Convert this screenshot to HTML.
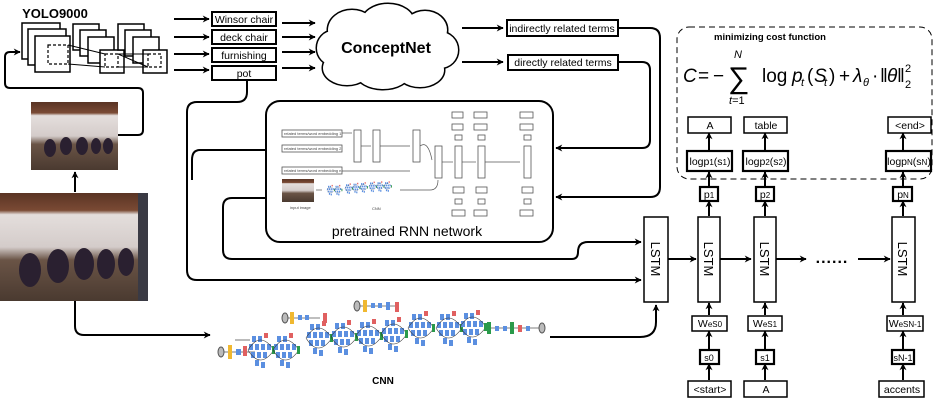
<!DOCTYPE html>
<html><head><meta charset="utf-8"><style>
html,body{margin:0;padding:0;background:#fff}
svg{display:block}
text{font-family:"Liberation Sans",sans-serif}
</style></head><body>
<svg width="938" height="405" viewBox="0 0 938 405" xmlns="http://www.w3.org/2000/svg">
<defs>
<marker id="a" viewBox="0 0 10 10" refX="9" refY="5" markerWidth="7" markerHeight="7" orient="auto-start-reverse" markerUnits="userSpaceOnUse"><path d="M0,0 L10,5 L0,10 L3,5 z" fill="#000"/></marker>
<linearGradient id="ph" x1="0" y1="0" x2="0" y2="1">
<stop offset="0" stop-color="#5a3424"/><stop offset="0.16" stop-color="#7a4a34"/><stop offset="0.2" stop-color="#e4dedc"/><stop offset="0.5" stop-color="#d4ccca"/><stop offset="0.62" stop-color="#6a5446"/><stop offset="1" stop-color="#4a3a30"/>
</linearGradient>
<g id="mod">
<rect x="0" y="-14" width="4" height="6" fill="#5b8fe0"/><rect x="6" y="-14" width="4" height="6" fill="#5b8fe0"/><rect x="12" y="-17" width="4" height="5" fill="#e06060"/>
<rect x="-3" y="-6" width="4" height="6" fill="#5b8fe0"/><rect x="3" y="-6" width="4" height="6" fill="#5b8fe0"/><rect x="9" y="-6" width="4" height="6" fill="#5b8fe0"/><rect x="15" y="-6" width="4" height="6" fill="#5b8fe0"/>
<rect x="-1" y="2" width="4" height="6" fill="#5b8fe0"/><rect x="5" y="2" width="4" height="6" fill="#5b8fe0"/><rect x="11" y="2" width="4" height="6" fill="#5b8fe0"/>
<rect x="3" y="10" width="4" height="6" fill="#5b8fe0"/><rect x="9" y="12" width="4" height="6" fill="#5b8fe0"/>
<path d="M-4,0 Q8,-20 22,0 Q8,20 -4,0" fill="none" stroke="#333" stroke-width="0.6"/>
<rect x="20" y="-4" width="3" height="8" fill="#2a9a4a"/>
</g>
</defs>

<!-- YOLO -->
<text x="55" y="18" font-size="13" font-weight="bold" text-anchor="middle">YOLO9000</text>
<g fill="#fff" stroke="#000" stroke-width="1.5">
<rect x="22" y="23" width="38" height="36"/><rect x="28" y="29" width="38" height="36"/><rect x="35" y="36" width="35" height="36"/>
<rect x="73" y="24" width="26" height="26"/><rect x="80" y="30" width="26" height="26"/><rect x="88" y="37" width="26" height="26"/><rect x="100" y="50" width="24" height="23"/>
<rect x="118" y="24" width="26" height="26"/><rect x="125" y="30" width="26" height="26"/><rect x="133" y="37" width="26" height="26"/><rect x="143" y="50" width="24" height="23"/>
</g>
<g fill="none" stroke="#000" stroke-width="1.2" stroke-dasharray="3,2">
<rect x="48" y="45" width="20" height="19"/><rect x="105" y="54" width="13" height="13"/><rect x="148" y="54" width="13" height="13"/>
</g>
<g stroke="#000" stroke-width="1"><line x1="68" y1="45" x2="105" y2="54"/><line x1="68" y1="64" x2="105" y2="67"/><line x1="118" y1="54" x2="148" y2="54"/><line x1="118" y1="67" x2="148" y2="67"/><line x1="118" y1="54" x2="148" y2="67"/></g>

<!-- photos -->
<rect x="31" y="102" width="87" height="68" fill="url(#ph)"/>
<rect x="0" y="193" width="148" height="108" fill="url(#ph)"/>
<g fill="#2a2030"><ellipse cx="50" cy="148" rx="6" ry="9"/><ellipse cx="66" cy="146" rx="6" ry="9"/><ellipse cx="82" cy="146" rx="6" ry="9"/><ellipse cx="96" cy="146" rx="5" ry="8"/><ellipse cx="108" cy="146" rx="5" ry="8"/>
<ellipse cx="30" cy="270" rx="11" ry="17"/><ellipse cx="58" cy="266" rx="11" ry="17"/><ellipse cx="84" cy="264" rx="10" ry="16"/><ellipse cx="106" cy="264" rx="9" ry="15"/><ellipse cx="126" cy="262" rx="8" ry="14"/></g>
<rect x="138" y="193" width="10" height="108" fill="#3a3a44"/>

<g fill="none" stroke="#000" stroke-width="2">
<path d="M75,192 V172" marker-end="url(#a)"/>
<path d="M118,135 H138 Q143,135 143,130 V93 Q143,88 138,88 H10 Q5,88 5,83 V57 Q5,52 10,52 H20" marker-end="url(#a)"/>
<path d="M75,301 V326 Q75,335 84,335 H210" marker-end="url(#a)"/>
<path d="M174,19 H209" marker-end="url(#a)"/><path d="M174,37 H209" marker-end="url(#a)"/><path d="M174,54 H209" marker-end="url(#a)"/><path d="M174,70 H209" marker-end="url(#a)"/>
<path d="M282,23 H315" marker-end="url(#a)"/><path d="M282,37 H315" marker-end="url(#a)"/><path d="M282,52 H315" marker-end="url(#a)"/><path d="M282,68 H315" marker-end="url(#a)"/>
<path d="M462,28 H503" marker-end="url(#a)"/><path d="M462,62 H503" marker-end="url(#a)"/>
<path d="M618,28 H650 Q660,28 660,38 V187 Q660,197 650,197 H556" marker-end="url(#a)"/>
<path d="M618,62 H642 Q650,62 650,70 V140 Q650,148 642,148 H556" marker-end="url(#a)"/>
<path d="M247,80 V92 Q247,102 237,102 H197 Q187,102 187,112 V270 Q187,280 197,280 H641" marker-end="url(#a)"/>
<path d="M266,150 H200 Q192,150 192,160 V180"/>
<path d="M266,198 H232 Q223,198 223,207 V250 Q223,259 232,259 H572 Q578,259 578,252 Q578,242 588,242 H641" marker-end="url(#a)"/>
<path d="M550,337 H640 Q656,337 656,322 V305" marker-end="url(#a)"/>
</g>

<g fill="#fff" stroke="#000" stroke-width="2"><rect x="212" y="12" width="64" height="14"/><rect x="212" y="30" width="64" height="14"/><rect x="212" y="48" width="64" height="14"/><rect x="212" y="66" width="64" height="14"/>
<rect x="507" y="20" width="111" height="16"/><rect x="508" y="55" width="110" height="15"/></g>
<g font-size="10.5" text-anchor="middle"><text x="244" y="23">Winsor chair</text><text x="244" y="41">deck chair</text><text x="244" y="59">furnishing</text><text x="244" y="77">pot</text>
<text x="562" y="32">indirectly related terms</text><text x="563" y="66">directly related terms</text></g>

<!-- cloud -->
<g stroke="#000" stroke-width="3" fill="#fff">
<ellipse cx="352" cy="30" rx="24" ry="20"/><ellipse cx="388" cy="22" rx="26" ry="18"/><ellipse cx="425" cy="30" rx="22" ry="19"/><ellipse cx="440" cy="50" rx="18" ry="18"/><ellipse cx="420" cy="70" rx="24" ry="17"/><ellipse cx="383" cy="74" rx="26" ry="15"/><ellipse cx="347" cy="68" rx="24" ry="17"/><ellipse cx="333" cy="48" rx="16" ry="17"/>
</g>
<g fill="#fff"><ellipse cx="352" cy="30" rx="24" ry="20"/><ellipse cx="388" cy="22" rx="26" ry="18"/><ellipse cx="425" cy="30" rx="22" ry="19"/><ellipse cx="440" cy="50" rx="18" ry="18"/><ellipse cx="420" cy="70" rx="24" ry="17"/><ellipse cx="383" cy="74" rx="26" ry="15"/><ellipse cx="347" cy="68" rx="24" ry="17"/><ellipse cx="333" cy="48" rx="16" ry="17"/><ellipse cx="386" cy="48" rx="55" ry="28"/></g>
<text x="386" y="53" font-size="16" font-weight="bold" text-anchor="middle">ConceptNet</text>

<!-- pretrained RNN box -->
<rect x="266" y="101" width="287" height="141" rx="14" fill="#fff" stroke="#000" stroke-width="2"/>
<text x="407" y="236" font-size="14" text-anchor="middle">pretrained RNN network</text>
<g stroke="#555" stroke-width="0.8" fill="#fff">
<rect x="282" y="130" width="60" height="7"/><rect x="282" y="145" width="60" height="7"/><rect x="282" y="167" width="60" height="7"/>
<rect x="354" y="130" width="7" height="32"/><rect x="373" y="130" width="7" height="32"/><rect x="413" y="130" width="7" height="32"/><rect x="435" y="146" width="7" height="32"/>
<rect x="455" y="146" width="7" height="32"/><rect x="478" y="146" width="7" height="32"/><rect x="524" y="146" width="7" height="32"/>
<rect x="452" y="112" width="11" height="6"/><rect x="474" y="112" width="13" height="6"/><rect x="520" y="112" width="13" height="6"/>
<rect x="452" y="124" width="11" height="6"/><rect x="474" y="124" width="13" height="6"/><rect x="520" y="124" width="13" height="6"/>
<rect x="455" y="135" width="7" height="5"/><rect x="478" y="135" width="7" height="5"/><rect x="524" y="135" width="7" height="5"/>
<rect x="453" y="187" width="11" height="6"/><rect x="476" y="187" width="11" height="6"/><rect x="522" y="187" width="11" height="6"/>
<rect x="455" y="199" width="7" height="5"/><rect x="478" y="199" width="7" height="5"/><rect x="524" y="199" width="7" height="5"/>
<rect x="452" y="210" width="13" height="6"/><rect x="474" y="210" width="13" height="6"/><rect x="520" y="210" width="13" height="6"/>
</g>
<rect x="282" y="179" width="32" height="23" fill="url(#ph)"/>
<g stroke="#555" stroke-width="0.7" fill="none"><path d="M342,133 H352"/><path d="M361,146 H371"/><path d="M380,146 H410"/><path d="M420,146 Q428,140 432,160"/><path d="M342,171 H410"/><path d="M442,162 H453"/><path d="M462,162 H476"/><path d="M485,162 H520"/><path d="M316,190 H322"/><path d="M400,190 H430 Q438,190 438,180"/></g>
<g font-size="4" fill="#444"><text x="284" y="135">related terms/word embedding 1</text><text x="284" y="150">related terms/word embedding 2</text><text x="284" y="172">related terms/word embedding n</text><text x="290" y="209">input image</text><text x="372" y="210">CNN</text></g>
<g transform="translate(322,190) scale(0.3)"><use href="#mod" x="20" y="0"/><use href="#mod" x="45" y="0"/><use href="#mod" x="80" y="-5"/><use href="#mod" x="105" y="-7"/><use href="#mod" x="130" y="-9"/><use href="#mod" x="160" y="-11"/><use href="#mod" x="185" y="-12"/><use href="#mod" x="210" y="-12"/></g>

<!-- CNN bottom -->
<g stroke="#777" stroke-width="1" fill="none"><path d="M218,352 H255"/><path d="M235,340 H250"/></g>
<ellipse cx="221" cy="352" rx="3" ry="5" fill="#bbb" stroke="#555"/>
<rect x="228" y="345" width="4" height="14" fill="#f0b830"/><rect x="236" y="349" width="5" height="6" fill="#5b8fe0"/><rect x="243" y="346" width="4" height="10" fill="#e06060"/>
<g><use href="#mod" x="252" y="350"/><use href="#mod" x="277" y="350"/><use href="#mod" x="310" y="338"/><use href="#mod" x="335" y="337"/><use href="#mod" x="360" y="336"/><use href="#mod" x="385" y="334"/><use href="#mod" x="412" y="328"/><use href="#mod" x="440" y="328"/><use href="#mod" x="464" y="327"/></g>
<g stroke="#555" stroke-width="0.8"><path d="M285,318 H320"/><path d="M357,306 H398"/><path d="M487,328 H540"/></g>
<ellipse cx="285" cy="318" rx="3" ry="5" fill="#bbb" stroke="#555"/><rect x="290" y="312" width="4" height="12" fill="#f0b830"/><rect x="298" y="315" width="4" height="5" fill="#5b8fe0"/><rect x="305" y="315" width="4" height="5" fill="#5b8fe0"/><rect x="323" y="313" width="4" height="10" fill="#e06060"/>
<ellipse cx="357" cy="306" rx="3" ry="5" fill="#bbb" stroke="#555"/><rect x="363" y="300" width="4" height="12" fill="#f0b830"/><rect x="371" y="303" width="4" height="5" fill="#5b8fe0"/><rect x="378" y="303" width="4" height="5" fill="#5b8fe0"/><rect x="386" y="302" width="4" height="8" fill="#5b8fe0"/><rect x="395" y="302" width="4" height="10" fill="#e06060"/>
<rect x="487" y="322" width="4" height="12" fill="#2a9a4a"/><rect x="495" y="326" width="4" height="5" fill="#5b8fe0"/><rect x="503" y="326" width="4" height="5" fill="#5b8fe0"/><rect x="510" y="322" width="4" height="12" fill="#2a9a4a"/><rect x="518" y="325" width="4" height="7" fill="#e06060"/><rect x="526" y="326" width="4" height="5" fill="#5b8fe0"/><ellipse cx="542" cy="328" rx="3" ry="5" fill="#bbb" stroke="#555"/>
<text x="383" y="384" font-size="10" font-weight="bold" text-anchor="middle">CNN</text>

<!-- dashed cost box -->
<rect x="677" y="27" width="255" height="152" rx="12" fill="none" stroke="#000" stroke-width="1" stroke-dasharray="6,4"/>
<text x="770" y="40" font-size="9.5" font-weight="bold" text-anchor="middle">minimizing cost function</text>
<g font-family="Liberation Serif, serif" font-size="19">
<text x="683" y="82" font-style="italic">C</text>
<text x="698" y="82">=</text><text x="713" y="82">−</text>
<text x="728" y="88" font-size="30">∑</text>
<text x="734" y="58" font-size="11" font-style="italic">N</text>
<text x="729" y="104" font-size="11"><tspan font-style="italic">t</tspan>=1</text>
<text x="762" y="82">log</text>
<text x="792" y="82" font-style="italic">p</text><text x="801" y="86" font-size="11" font-style="italic">t</text>
<text x="807" y="82">(</text><text x="814" y="82" font-style="italic">S</text><text x="824" y="86" font-size="11" font-style="italic">t</text><text x="829" y="82">)</text>
<text x="839" y="82">+</text>
<text x="853" y="82" font-style="italic">λ</text><text x="863" y="86" font-size="11" font-style="italic">θ</text>
<text x="872" y="82">·</text>
<text x="880" y="82">‖</text><text x="887" y="82" font-style="italic">θ</text><text x="897" y="82">‖</text>
<text x="905" y="72" font-size="11">2</text><text x="905" y="88" font-size="11">2</text>
</g>

<!-- right columns -->
<g fill="none" stroke="#000" stroke-width="2">
<path d="M668,259 H696" marker-end="url(#a)"/><path d="M720,259 H751" marker-end="url(#a)"/><path d="M776,259 H806" marker-end="url(#a)"/><path d="M858,259 H890" marker-end="url(#a)"/>
<path d="M709,349 V331" marker-end="url(#a)"/><path d="M709,380 V364" marker-end="url(#a)"/><path d="M709,315 V303" marker-end="url(#a)"/><path d="M709,216 V201" marker-end="url(#a)"/><path d="M709,186 V172" marker-end="url(#a)"/><path d="M709,150 V133" marker-end="url(#a)"/>
<path d="M765,349 V331" marker-end="url(#a)"/><path d="M765,380 V364" marker-end="url(#a)"/><path d="M765,315 V303" marker-end="url(#a)"/><path d="M765,216 V201" marker-end="url(#a)"/><path d="M765,186 V172" marker-end="url(#a)"/><path d="M765,150 V133" marker-end="url(#a)"/>
<path d="M903,349 V331" marker-end="url(#a)"/><path d="M903,380 V364" marker-end="url(#a)"/><path d="M903,315 V303" marker-end="url(#a)"/><path d="M903,216 V201" marker-end="url(#a)"/><path d="M903,186 V172" marker-end="url(#a)"/><path d="M903,150 V133" marker-end="url(#a)"/>
</g>
<text x="832" y="263" font-size="16" font-weight="bold" text-anchor="middle" letter-spacing="1">......</text>
<g fill="#fff" stroke="#000" stroke-width="1.5">
<rect x="644" y="217" width="24" height="85"/><rect x="698" y="217" width="22" height="85"/><rect x="754" y="217" width="22" height="85"/><rect x="892" y="217" width="23" height="85"/>
<rect x="688" y="117" width="43" height="16"/><rect x="744" y="117" width="43" height="16"/><rect x="888" y="117" width="43" height="16"/>
<rect x="687" y="151" width="45" height="20" stroke-width="2.2"/><rect x="743" y="151" width="45" height="20" stroke-width="2.2"/><rect x="886" y="151" width="45" height="20" stroke-width="2.2"/>
<rect x="700" y="187" width="18" height="14" stroke-width="2.2"/><rect x="756" y="187" width="18" height="14" stroke-width="2.2"/><rect x="893" y="187" width="19" height="14" stroke-width="2.2"/>
<rect x="692" y="316" width="35" height="15"/><rect x="748" y="316" width="34" height="15"/><rect x="887" y="316" width="36" height="15"/>
<rect x="700" y="350" width="19" height="14" stroke-width="2.2"/><rect x="756" y="350" width="18" height="14" stroke-width="2.2"/><rect x="892" y="350" width="22" height="14" stroke-width="2.2"/>
<rect x="688" y="381" width="43" height="16"/><rect x="744" y="381" width="43" height="16"/><rect x="879" y="381" width="45" height="16"/>
</g>
<g font-size="13" text-anchor="middle">
<text transform="translate(651,259) rotate(90)">LSTM</text><text transform="translate(704,259) rotate(90)">LSTM</text><text transform="translate(760,259) rotate(90)">LSTM</text><text transform="translate(898,259) rotate(90)">LSTM</text>
</g>
<g font-size="10.5" text-anchor="middle">
<text x="710" y="129">A</text><text x="766" y="129">table</text><text x="910" y="129">&lt;end&gt;</text>
<text x="710" y="165">logp<tspan font-size="8">1</tspan>(s<tspan font-size="8">1</tspan>)</text><text x="766" y="165">logp<tspan font-size="8">2</tspan>(s<tspan font-size="8">2</tspan>)</text><text x="909" y="165">logp<tspan font-size="8">N</tspan>(s<tspan font-size="8">N</tspan>)</text>
<text x="709" y="198">p<tspan font-size="8">1</tspan></text><text x="765" y="198">p<tspan font-size="8">2</tspan></text><text x="903" y="198">p<tspan font-size="8">N</tspan></text>
<text x="710" y="327">W<tspan font-size="8">eS0</tspan></text><text x="765" y="327">W<tspan font-size="8">eS1</tspan></text><text x="905" y="327">W<tspan font-size="8">eSN-1</tspan></text>
<text x="709" y="361" font-size="9">s0</text><text x="765" y="361" font-size="9">s1</text><text x="903" y="361" font-size="9">sN-1</text>
<text x="710" y="393">&lt;start&gt;</text><text x="766" y="393">A</text><text x="902" y="393">accents</text>
</g>
</svg>
</body></html>
